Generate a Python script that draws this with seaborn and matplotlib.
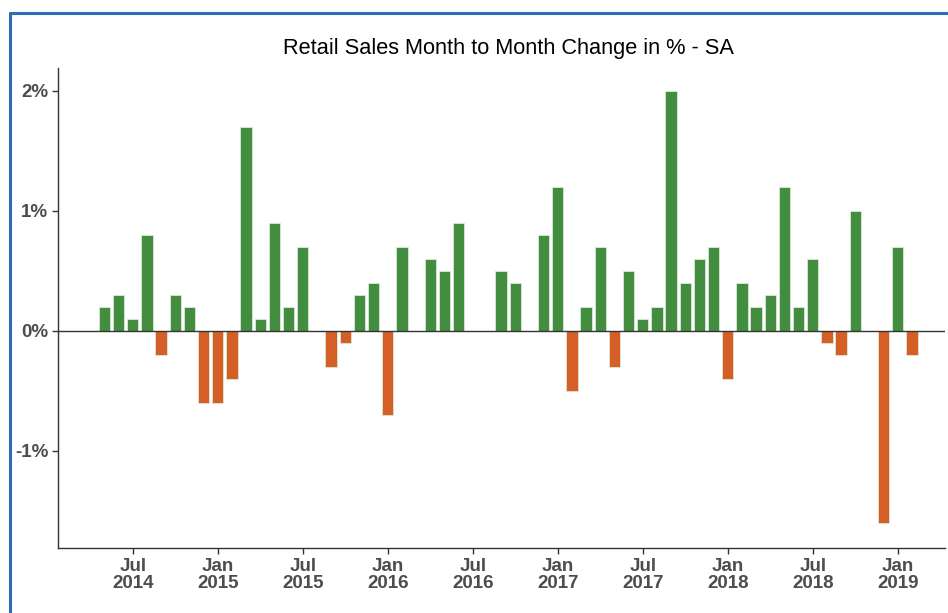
import pandas as pd
import numpy as np
import matplotlib
matplotlib.use("Agg")
import matplotlib.pyplot as plt
from matplotlib.lines import Line2D
import seaborn as sns

# monthly data, May 2014 - Feb 2019
months = pd.date_range("2014-05-01", "2019-02-01", freq="MS")
change = [0.2, 0.3, 0.1, 0.8, -0.2, 0.3, 0.2, -0.6,
          -0.6, -0.4, 1.7, 0.1, 0.9, 0.2, 0.7, 0.0, -0.3, -0.1, 0.3, 0.4,
          -0.7, 0.7, 0.0, 0.6, 0.5, 0.9, 0.0, 0.0, 0.5, 0.4, 0.0, 0.8,
          1.2, -0.5, 0.2, 0.7, -0.3, 0.5, 0.1, 0.2, 2.0, 0.4, 0.6, 0.7,
          -0.4, 0.4, 0.2, 0.3, 1.2, 0.2, 0.6, -0.1, -0.2, 1.0, 0.0, -1.6,
          0.7, -0.2]
y_ticks = [-1, 0, 1, 2]
y_labels = ["-1%", "0%", "1%", "2%"]

df = pd.DataFrame({"month": months.strftime("%Y-%m"), "change": change})
df["sign"] = np.where(df["change"] < 0, "neg", "pos")

sns.set_theme(style="white")
plt.rcParams["font.family"] = ["Liberation Sans", "DejaVu Sans"]

fig = plt.figure(figsize=(9.48, 6.13), dpi=100)
ax = fig.add_axes([0.0612, 0.106, 0.936, 0.783])

sns.barplot(data=df, x="month", y="change", hue="sign",
            palette={"pos": "#428D40", "neg": "#D65F28"}, saturation=1,
            dodge=False, width=0.8, edgecolor="#d9ead6", linewidth=0.6,
            legend=False, ax=ax)

ax.axhline(0, color="#333333", linewidth=1)
ax.set_xlim(-3.28, 59.36)
ax.set_ylim(-1.81, 2.19)

# ticks every 6 months starting Jul 2014
tick_idx = list(range(2, len(months), 6))
ax.set_xticks(tick_idx)
ax.set_xticklabels([months[i].strftime("%b\n%Y") for i in tick_idx],
                   fontsize=13.5, fontweight="bold", color="#4d4d4d", linespacing=1.05)
ax.set_yticks(y_ticks)
ax.set_yticklabels(y_labels, fontsize=13.5, fontweight="bold", color="#4d4d4d")
ax.tick_params(axis="both", length=4, width=1, color="#333333", bottom=True, left=True, pad=3)
ax.set_xlabel("")
ax.set_ylabel("")

for side in ["top", "right"]:
    ax.spines[side].set_visible(False)
for side in ["left", "bottom"]:
    ax.spines[side].set_color("#333333")
    ax.spines[side].set_linewidth(1)

fig.text(0.536, 0.921, "Retail Sales Month to Month Change in % - SA",
         ha="center", va="center", fontsize=15.7, color="black")

# blue frame around the figure
fig.add_artist(Line2D([0.0105, 1.0], [0.979, 0.979], color="#2E6DB4", linewidth=2.2))
fig.add_artist(Line2D([0.0105, 0.0105], [0.0, 0.979], color="#2E6DB4", linewidth=2.2))

fig.savefig("out.png", dpi=100)
